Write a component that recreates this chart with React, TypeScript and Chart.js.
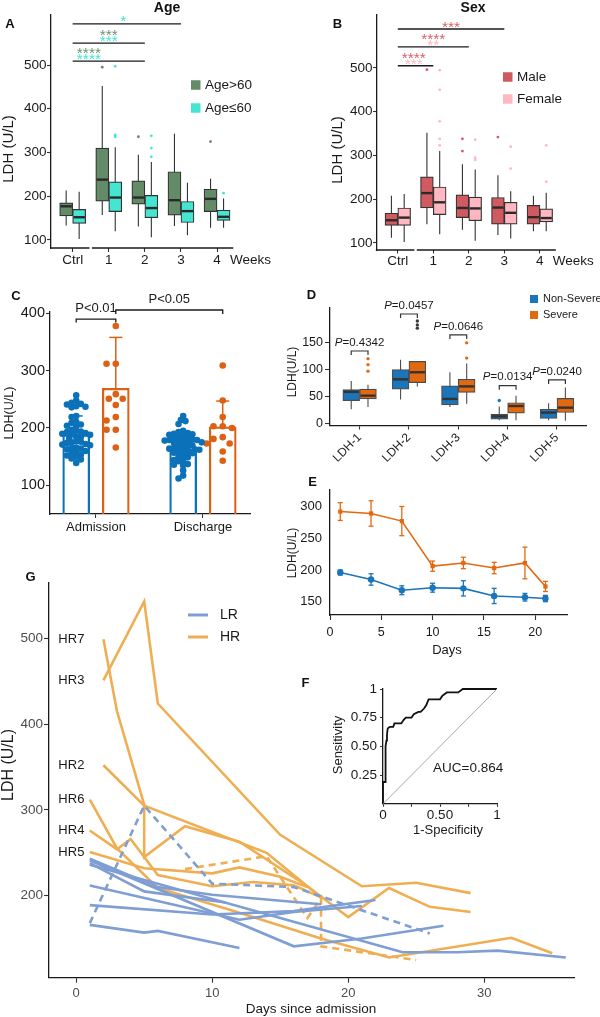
import React, { useEffect, useRef } from "react";
import { Chart, registerables } from "chart.js";

Chart.register(...registerables);

const FONT = "'Liberation Sans', Arial, Helvetica, sans-serif";
Chart.defaults.font.family = FONT;
Chart.defaults.color = "#1a1a1a";

/* ======================= DATA ======================= */
// Panels A and B: weekly LDH box plots
const weekLabels = ["Ctrl", "1", "2", "3", "4"];

// A — Age>60
const oldMin = [133, 157, 131, 132, 128];
const oldQ1 = [155, 189, 182, 157, 165];
const oldMed = [177, 238, 197, 191, 194];
const oldQ3 = [185, 310, 235, 256, 216];
const oldMax = [213, 452, 295, 343, 240];
const oldOut = [[], [495], [336], [], [325]];
// A — Age≤60
const youngMin = [102, 120, 106, 111, 128];
const youngQ1 = [138, 165, 151, 140, 145];
const youngMed = [152, 197, 173, 166, 153];
const youngQ3 = [170, 233, 202, 188, 168];
const youngMax = [210, 312, 278, 231, 195];
const youngOut = [[], [497, 340, 336], [338, 310, 290], [], [207]];
// A — significance
const ageSigFrom = [1, 1, 1];
const ageSigTo = [4, 3, 3];
const ageSigLevel = [594, 550, 509];
const ageSigMid = [2.4, 2.0, 1.45];
const ageStarsOld = ["", "***", "****"];
const ageStarsYoung = ["*", "***", "****"];

// B — Male
const maleMin = [112, 143, 130, 118, 127];
const maleQ1 = [140, 180, 158, 143, 143];
const maleMed = [152, 214, 180, 181, 159];
const maleQ3 = [168, 251, 210, 204, 186];
const maleMax = [208, 352, 280, 255, 208];
const maleOut = [[], [496], [338, 310], [342], []];
// B — Female
const femMin = [102, 120, 105, 110, 127];
const femQ1 = [140, 165, 151, 143, 148];
const femMed = [158, 193, 179, 169, 157];
const femQ3 = [180, 228, 205, 193, 178];
const femMax = [212, 310, 268, 218, 215];
const femOut = [[], [495, 450, 378, 338, 323], [336, 295, 290], [320, 270], [323, 240]];
// B — significance
const sexSigFrom = [1, 1, 1];
const sexSigTo = [4, 3, 2];
const sexSigLevel = [589, 548, 505];
const sexSigMid = [2.5, 2.0, 1.45];
const sexStarsMale = ["***", "****", "****"];
const sexStarsFemale = ["", "**", "***"];

// Panel C: bars (mean, SD) + individual values
const cGroups = ["Admission", "Discharge"];
const cNonSevereMean = [188, 163];
const cNonSevereSD = [33, 20];
const cSevereMean = [269, 202];
const cSevereSD = [89, 45];
const cNonSevereAdm = [257, 248, 244, 242, 241, 238, 237, 236, 221, 219, 211, 209, 206, 204, 203, 197, 195, 194, 193, 191, 190, 189, 188, 185, 184, 182, 177, 176, 175, 174, 172, 171, 170, 166, 165, 164, 163, 160, 158, 157, 153, 152, 150, 147, 145, 139];
const cNonSevereDis = [221, 214, 212, 207, 195, 193, 191, 190, 189, 188, 185, 184, 183, 182, 180, 179, 179, 178, 177, 176, 175, 175, 174, 170, 169, 168, 167, 165, 164, 163, 162, 161, 159, 158, 157, 156, 151, 150, 149, 144, 143, 142, 137, 136, 135, 126, 117, 112];
const cSevereAdm = [378, 312, 312, 259, 251, 251, 240, 219, 213, 197, 197, 166];
const cSevereDis = [309, 248, 219, 203, 203, 200, 184, 181, 173, 173, 159, 143];
const cCompareText = ["P<0.01", "P<0.05"];
const cCompareLevel = [390, 405.8];

// Panel D: LDH isoenzymes
const isoLabels = ["LDH-1", "LDH-2", "LDH-3", "LDH-4", "LDH-5"];
const nsMin = [27, 45, 31, 7, 7];
const nsQ1 = [43, 64, 35, 9, 10];
const nsMed = [59, 82, 46, 14, 21];
const nsQ3 = [63, 100, 70, 18, 27];
const nsMax = [79, 118, 95, 32, 38];
const nsOut = [[], [], [], [43], []];
const svMin = [31, 69, 37, 7, 6];
const svQ1 = [46, 76, 58, 20, 21];
const svMed = [52, 95, 69, 33, 30];
const svQ3 = [64, 115, 82, 39, 47];
const svMax = [72, 115, 111, 52, 67];
const svOut = [[120, 109, 97], [189, 182, 176], [149, 121], [], []];
const dPValues = ["0.4342", "0.0457", "0.0646", "0.0134", "0.0240"];
const dBracketLevel = [134, 202, 163.6, 70.4, 80.9];

// Panel E: time course (mean ± SEM)
const eDays = [1, 4, 7, 10, 13, 16, 19, 21];
const eSevere = [292, 289, 277, 206, 211, 203, 211, 174];
const eSevereErr = [14, 20, 23, 8, 9, 9, 25, 8];
const eNonSevere = [196, 185, 168, 172, 171, 159, 157, 155];
const eNonSevereErr = [4, 9, 7, 7, 12, 12, 6, 5];

// Panel F: ROC
const rocFpr = [0, 0, 0.02, 0.02, 0.025, 0.03, 0.035, 0.04, 0.045, 0.06, 0.09, 0.1, 0.16, 0.18, 0.2, 0.25, 0.27, 0.31, 0.33, 0.36, 0.38, 0.4, 0.5, 0.52, 0.56, 0.66, 0.7, 1];
const rocTpr = [0, 0.19, 0.19, 0.35, 0.5, 0.55, 0.6, 0.65, 0.66, 0.67, 0.67, 0.7, 0.7, 0.73, 0.75, 0.75, 0.78, 0.8, 0.8, 0.83, 0.86, 0.91, 0.91, 0.94, 0.97, 0.97, 1, 1];
const chanceLine = [0, 1];
const aucText = "AUC=0.864";

// Panel G: individual trajectories
const lrDays = [[1, 6, 10, 18], [1, 5, 11], [1, 12, 16, 21], [1, 10, 16, 22], [1, 5, 6, 12], [1, 16, 21, 27], [1, 24, 28, 31, 36]];
const lrLDH = [[243, 210, 201, 190], [238, 205, 192], [212, 172, 181, 188], [189, 178, 182, 195], [166, 157, 159, 139], [241, 141, 150, 165], [236, 134, 134, 136, 128]];
const lrDashDays = [1, 5, 10, 16, 26];
const lrDashLDH = [168, 305, 214, 210, 156];
const hrNames = ["HR7", "HR3", "HR2", "HR6", "HR4", "HR5"];
const hrDays = [[2, 3, 5, 5, 8, 12, 17, 20, 23, 26, 29], [2, 5, 6, 15, 21, 25, 29], [2, 5, 14, 18], [1, 3, 6, 12, 18, 23, 32, 35], [1, 3, 4, 6, 10, 13, 16, 18], [1, 5, 10, 12, 15, 17]];
const hrLDH = [[499, 415, 306, 245, 281, 263, 211, 175, 209, 187, 181], [451, 543, 424, 271, 211, 215, 203], [352, 305, 250, 198], [312, 255, 209, 180, 150, 128, 151, 133], [276, 254, 266, 224, 211, 216, 212, 198], [251, 232, 226, 233, 222, 210]];
const hrDashDays = [8, 14, 17, 18, 18, 25];
const hrDashLDH = [231, 246, 174, 197, 141, 125];

/* ======================= STYLE ======================= */
const AGE_OLD = "#638b67";
const AGE_YOUNG = "#45e5d2";
const MALE = "#cf5a60";
const FEMALE = "#ffb8c2";
const C_BLUE = "#0b72ba";
const C_OR = "#dd6114";
const D_BLUE = "#1a75bb";
const D_OR = "#e2690f";
const svOutlierColors = [D_OR, "#3a3a3a", D_OR, D_OR, D_OR];
const G_LR = "#7f9ed3";
const G_HR = "#efae52";

type Rect = { l: number; t: number; w: number; h: number };
type Area = { L: number; T: number; R: number; B: number };
type Box = { label: string; fill: string; min: number[]; q1: number[]; med: number[]; q3: number[]; max: number[]; out: number[][]; outFill: any };

function frame(rect: Rect, area: Area) {
  return {
    padding: { left: 0, top: area.T - rect.t, right: rect.l + rect.w - area.R, bottom: 0 },
    yW: area.L - rect.l,
    xH: rect.t + rect.h - area.B,
    ox: rect.l,
    oy: rect.t,
  };
}

function seg(ctx: CanvasRenderingContext2D, x1: number, y1: number, x2: number, y2: number) {
  ctx.beginPath();
  ctx.moveTo(x1, y1);
  ctx.lineTo(x2, y2);
  ctx.stroke();
}

type TxtOpt = { size?: number; bold?: boolean; italic?: boolean; color?: string; align?: CanvasTextAlign; base?: CanvasTextBaseline; rot?: number };
function txt(ctx: CanvasRenderingContext2D, s: string, x: number, y: number, o: TxtOpt = {}) {
  ctx.save();
  ctx.font = `${o.italic ? "italic " : ""}${o.bold ? "bold " : ""}${o.size ?? 13}px ${FONT}`;
  ctx.fillStyle = o.color ?? "#1a1a1a";
  ctx.textAlign = o.align ?? "left";
  ctx.textBaseline = o.base ?? "middle";
  ctx.translate(x, y);
  if (o.rot) ctx.rotate(o.rot);
  ctx.fillText(s, 0, 0);
  ctx.restore();
}

function pText(ctx: CanvasRenderingContext2D, val: string, cx: number, cy: number, size: number) {
  ctx.save();
  ctx.font = `italic ${size}px ${FONT}`;
  const w1 = ctx.measureText("P").width;
  ctx.font = `${size}px ${FONT}`;
  const w2 = ctx.measureText("=" + val).width;
  ctx.restore();
  const x0 = cx - (w1 + w2) / 2;
  txt(ctx, "P", x0, cy, { italic: true, size });
  txt(ctx, "=" + val, x0 + w1, cy, { size });
}

function linAxis(o: any) {
  const tl = o.tickLen ?? 4;
  return {
    type: "linear",
    min: o.min,
    max: o.max,
    offset: false,
    beginAtZero: false,
    afterBuildTicks: (s: any) => {
      s.ticks = o.ticks.map((v: number) => ({ value: v }));
    },
    afterFit: o.fit,
    ticks: {
      autoSkip: false,
      maxRotation: o.rot ?? 0,
      minRotation: o.rot ?? 0,
      padding: o.pad ?? 2,
      color: o.color ?? "#1a1a1a",
      font: { size: o.size ?? 13, family: FONT },
      callback: (v: any) => (o.fmt ? o.fmt(Number(v)) : String(v)),
    },
    grid: {
      display: tl > 0,
      drawOnChartArea: false,
      drawTicks: tl > 0,
      tickLength: tl,
      tickColor: "#333",
      tickWidth: 1.1,
      offset: false,
    },
    border: { display: o.border ?? true, color: "#1a1a1a", width: o.bw ?? 1.3 },
  };
}

function baseOptions(f: any) {
  return {
    responsive: false,
    maintainAspectRatio: false,
    animation: false,
    events: [],
    layout: { padding: f.padding },
    plugins: { legend: { display: false }, tooltip: { enabled: false }, title: { display: false } },
  };
}

function boxSets(series: Box[], thick: number, edge: string) {
  return series.map((s) => ({
    type: "bar",
    label: s.label,
    data: s.q1.map((q, i) => ({ x: i + 1, y: [q, s.q3[i]] })),
    backgroundColor: s.fill,
    borderColor: edge,
    borderWidth: 1.2,
    borderSkipped: false,
    barThickness: thick,
    grouped: true,
    order: 1,
  }));
}

function boxPlugin(series: Box[], whisker: string, medColor: string, outR: number) {
  return {
    id: "boxes",
    beforeDatasetsDraw(chart: any) {
      const ctx = chart.ctx as CanvasRenderingContext2D;
      const ys = chart.scales.y;
      ctx.save();
      ctx.strokeStyle = whisker;
      ctx.lineWidth = 1.1;
      series.forEach((s, di) => {
        chart.getDatasetMeta(di).data.forEach((el: any, i: number) => {
          seg(ctx, el.x, ys.getPixelForValue(s.min[i]), el.x, ys.getPixelForValue(s.max[i]));
        });
      });
      ctx.restore();
    },
    afterDatasetsDraw(chart: any) {
      const ctx = chart.ctx as CanvasRenderingContext2D;
      const ys = chart.scales.y;
      ctx.save();
      series.forEach((s, di) => {
        chart.getDatasetMeta(di).data.forEach((el: any, i: number) => {
          const hw = el.width / 2;
          ctx.strokeStyle = medColor;
          ctx.lineWidth = 2.4;
          const my = ys.getPixelForValue(s.med[i]);
          seg(ctx, el.x - hw + 0.8, my, el.x + hw - 0.8, my);
          ctx.fillStyle = Array.isArray(s.outFill) ? s.outFill[i] : s.outFill;
          s.out[i].forEach((v) => {
            ctx.beginPath();
            ctx.arc(el.x, ys.getPixelForValue(v), outR, 0, Math.PI * 2);
            ctx.fill();
          });
        });
      });
      ctx.restore();
    },
  };
}

/* ---------- Panels A & B ---------- */
function weekConfig(p: any) {
  const f = frame(p.rect, p.area);
  const xmin = 0.4;
  const xmax = 5.45;
  const ppu = (p.area.R - p.area.L) / (xmax - xmin);
  const thick = 0.36 * ppu;
  const series: Box[] = p.series;
  const annot = {
    id: "weekAnnot",
    afterDraw(chart: any) {
      const ctx = chart.ctx as CanvasRenderingContext2D;
      const xs = chart.scales.x;
      const ys = chart.scales.y;
      const ca = chart.chartArea;
      ctx.save();
      ctx.strokeStyle = "#1a1a1a";
      ctx.lineWidth = 1.3;
      const gap = xs.getPixelForValue(1.5);
      seg(ctx, ca.left - 0.65, ca.bottom, gap - 1.2, ca.bottom);
      seg(ctx, gap + 1.2, ca.bottom, ca.right, ca.bottom);
      const SZ = 15.5;
      p.sigLevel.forEach((v: number, i: number) => {
        const y = ys.getPixelForValue(v);
        ctx.strokeStyle = "#1a1a1a";
        ctx.lineWidth = 1.3;
        seg(ctx, xs.getPixelForValue(p.sigFrom[i]), y, xs.getPixelForValue(p.sigTo[i]), y);
        const sx = xs.getPixelForValue(p.sigMid[i]);
        const hi = p.starsHi[i];
        const lo = p.starsLo[i];
        const star = (s: string, c: string, cy: number) =>
          txt(ctx, s, sx, cy + 0.57 * SZ, { size: SZ, color: c, align: "center", base: "alphabetic" });
        if (hi && lo) {
          star(hi, p.starColors[0], y - 12);
          star(lo, p.starColors[1], y - 5.5);
        } else if (hi) star(hi, p.starColors[0], y - 6);
        else if (lo) star(lo, p.starColors[1], y - 7);
      });
      txt(ctx, "Weeks", xs.getPixelForValue(5) + 13, ca.bottom + p.tickLen + 8.1, { size: 13.5 });
      txt(ctx, "LDH (U/L)", p.yTitle[0] - f.ox, p.yTitle[1] - f.oy, { size: 15, align: "center", rot: -Math.PI / 2 });
      series.forEach((s, i) => {
        const ly = p.legendY[i] - f.oy;
        const lx = p.legendX - f.ox;
        ctx.fillStyle = s.fill;
        ctx.fillRect(lx, ly - 4.75, 9.5, 9.5);
        txt(ctx, s.label, lx + 14, ly, { size: 13.5 });
      });
      ctx.restore();
    },
  };
  return {
    type: "bar",
    data: { datasets: boxSets(series, thick, "#333") },
    options: {
      ...baseOptions(f),
      scales: {
        x: linAxis({
          min: xmin, max: xmax, ticks: [1, 2, 3, 4, 5], fmt: (v: number) => weekLabels[v - 1],
          border: false, size: 13.5, tickLen: p.tickLen, pad: 0,
          fit: (s: any) => { s.height = f.xH; },
        }),
        y: linAxis({
          min: p.ymin, max: p.ymax, ticks: [100, 200, 300, 400, 500], size: 13.5, tickLen: p.tickLen, pad: 0.5,
          fit: (s: any) => { s.width = f.yW; },
        }),
      },
    },
    plugins: [boxPlugin(series, "#333", "#2a2a2a", 1.4), annot],
  };
}

const rectA: Rect = { l: 0, t: 0, w: 300, h: 272 };
const rectB: Rect = { l: 300, t: 0, w: 300, h: 272 };

function configA() {
  return weekConfig({
    rect: rectA,
    area: { L: 51, T: 15, R: 233.3, B: 248 },
    ymin: 81.7, ymax: 614.3, tickLen: 4,
    series: [
      { label: "Age>60", fill: AGE_OLD, min: oldMin, q1: oldQ1, med: oldMed, q3: oldQ3, max: oldMax, out: oldOut, outFill: AGE_OLD },
      { label: "Age≤60", fill: AGE_YOUNG, min: youngMin, q1: youngQ1, med: youngMed, q3: youngQ3, max: youngMax, out: youngOut, outFill: AGE_YOUNG },
    ],
    sigFrom: ageSigFrom, sigTo: ageSigTo, sigLevel: ageSigLevel, sigMid: ageSigMid,
    starsHi: ageStarsOld, starsLo: ageStarsYoung, starColors: ["#6f9273", AGE_YOUNG],
    legendX: 191, legendY: [85, 108], yTitle: [9, 149],
  });
}

function configB() {
  return weekConfig({
    rect: rectB,
    area: { L: 376.5, T: 15, R: 555.8, B: 250 },
    ymin: 84, ymax: 621, tickLen: 3.5,
    series: [
      { label: "Male", fill: MALE, min: maleMin, q1: maleQ1, med: maleMed, q3: maleQ3, max: maleMax, out: maleOut, outFill: MALE },
      { label: "Female", fill: FEMALE, min: femMin, q1: femQ1, med: femMed, q3: femQ3, max: femMax, out: femOut, outFill: FEMALE },
    ],
    sigFrom: sexSigFrom, sigTo: sexSigTo, sigLevel: sexSigLevel, sigMid: sexSigMid,
    starsHi: sexStarsMale, starsLo: sexStarsFemale, starColors: ["#d4646a", FEMALE],
    legendX: 503, legendY: [77, 99], yTitle: [338, 150],
  });
}

/* ---------- Panel C ---------- */
// compact beeswarm layout (positions derived from the values only)
function swarm(values: number[], cx: number, pxX: number, pxY: number, r: number, tight: number) {
  const placed: { x: number; y: number }[] = [];
  const order = values.map((_, i) => i).sort((a, b) => values[b] - values[a]);
  const out: { x: number; y: number }[] = [];
  const minD = tight * r;
  const step = 0.7 * r;
  for (const i of order) {
    const py = values[i] * pxY;
    let off = 0;
    for (let k = 0; k < 60; k++) {
      const cand = (k % 2 === 0 ? 1 : -1) * Math.ceil(k / 2) * step;
      if (placed.every((p) => (p.x - cand) ** 2 + (p.y - py) ** 2 >= minD * minD)) {
        off = cand;
        break;
      }
    }
    placed.push({ x: off, y: py });
    out.push({ x: cx + off / pxX, y: values[i] });
  }
  return out;
}

const rectC: Rect = { l: 0, t: 280, w: 300, h: 265 };
function configC() {
  const area = { L: 50, T: 311.6, R: 250, B: 514 };
  const f = frame(rectC, area);
  const xmin = 0.57, xmax = 2.44, ymin = 50, ymax = 403;
  const ppuX = (area.R - area.L) / (xmax - xmin);
  const ppuY = (area.B - area.T) / (ymax - ymin);
  const dx = 0.185;
  const blueX = cGroups.map((_, i) => i + 1 - dx);
  const orX = cGroups.map((_, i) => i + 1 + dx);
  const r = 3.3;
  const bluePts = [...swarm(cNonSevereAdm, blueX[0], ppuX, ppuY, r, 1.3), ...swarm(cNonSevereDis, blueX[1], ppuX, ppuY, r, 1.3)];
  const orPts = [...swarm(cSevereAdm, orX[0], ppuX, ppuY, r, 2.4), ...swarm(cSevereDis, orX[1], ppuX, ppuY, r, 2.4)];
  const sds = [cNonSevereSD, cSevereSD];
  const cols = [C_BLUE, C_OR];
  const annot = {
    id: "cAnnot",
    beforeDatasetsDraw(chart: any) {
      const ctx = chart.ctx as CanvasRenderingContext2D;
      const ys = chart.scales.y;
      ctx.save();
      [2, 3].forEach((di, k) => {
        chart.getDatasetMeta(di).data.forEach((el: any, i: number) => {
          const mean = (chart.data.datasets[di].data[i] as any).y;
          const top = ys.getPixelForValue(mean + sds[k][i]);
          ctx.strokeStyle = cols[k];
          ctx.lineWidth = 1.5;
          seg(ctx, el.x, el.y, el.x, top);
          seg(ctx, el.x - 6.5, top, el.x + 6.5, top);
        });
      });
      ctx.restore();
    },
    afterDraw(chart: any) {
      const ctx = chart.ctx as CanvasRenderingContext2D;
      const xs = chart.scales.x;
      const ys = chart.scales.y;
      ctx.save();
      ctx.strokeStyle = "#1a1a1a";
      ctx.lineWidth = 1.3;
      const pairs = [[blueX[0], orX[0]], [orX[0], orX[1]]];
      cCompareText.forEach((label, i) => {
        const x1 = xs.getPixelForValue(pairs[i][0]);
        const x2 = xs.getPixelForValue(pairs[i][1]);
        const y = ys.getPixelForValue(cCompareLevel[i]);
        const leg = i === 0 ? 3.5 : 4;
        ctx.beginPath();
        ctx.moveTo(x1, y + leg);
        ctx.lineTo(x1, y);
        ctx.lineTo(x2, y);
        ctx.lineTo(x2, y + leg);
        ctx.stroke();
        txt(ctx, label, (x1 + x2) / 2, y - 10.5, { size: 13, align: "center" });
      });
      txt(ctx, "LDH(U/L)", 10 - f.ox, 413 - f.oy, { size: 12.5, align: "center", rot: -Math.PI / 2 });
      ctx.restore();
    },
  };
  return {
    type: "bar",
    data: {
      datasets: [
        { type: "scatter", data: bluePts, backgroundColor: C_BLUE, pointRadius: r, borderWidth: 0, order: 1 },
        { type: "scatter", data: orPts, backgroundColor: C_OR, pointRadius: r, borderWidth: 0, order: 1 },
        { type: "bar", data: cNonSevereMean.map((m, i) => ({ x: blueX[i], y: m })), backgroundColor: "rgba(255,255,255,0)", borderColor: C_BLUE, borderWidth: 1.6, barThickness: 27, grouped: false, order: 2 },
        { type: "bar", data: cSevereMean.map((m, i) => ({ x: orX[i], y: m })), backgroundColor: "rgba(255,255,255,0)", borderColor: C_OR, borderWidth: 1.6, barThickness: 27, grouped: false, order: 2 },
      ],
    },
    options: {
      ...baseOptions(f),
      scales: {
        x: linAxis({ min: xmin, max: xmax, ticks: [1, 2], fmt: (v: number) => cGroups[v - 1], size: 13, tickLen: 4, pad: 1.2, fit: (s: any) => { s.height = f.xH; } }),
        y: linAxis({ min: ymin, max: ymax, ticks: [100, 200, 300, 400], size: 14.5, tickLen: 4, pad: 1, fit: (s: any) => { s.width = f.yW; } }),
      },
    },
    plugins: [annot],
  };
}

/* ---------- Panel D ---------- */
const rectD: Rect = { l: 280, t: 282, w: 320, h: 185 };
function configD() {
  const area = { L: 330, T: 308, R: 586.6, B: 425.5 };
  const f = frame(rectD, area);
  const xmin = 0.4, xmax = 5.6;
  const ppu = (area.R - area.L) / (xmax - xmin);
  const series: Box[] = [
    { label: "Non-Severe", fill: D_BLUE, min: nsMin, q1: nsQ1, med: nsMed, q3: nsQ3, max: nsMax, out: nsOut, outFill: D_BLUE },
    { label: "Severe", fill: D_OR, min: svMin, q1: svQ1, med: svMed, q3: svQ3, max: svMax, out: svOut, outFill: svOutlierColors },
  ];
  const annot = {
    id: "dAnnot",
    afterDraw(chart: any) {
      const ctx = chart.ctx as CanvasRenderingContext2D;
      const ys = chart.scales.y;
      const a = chart.getDatasetMeta(0).data;
      const b = chart.getDatasetMeta(1).data;
      ctx.save();
      ctx.strokeStyle = "#333";
      ctx.lineWidth = 1.2;
      dPValues.forEach((pv, i) => {
        const x1 = a[i].x;
        const x2 = b[i].x;
        const y = ys.getPixelForValue(dBracketLevel[i]);
        ctx.beginPath();
        ctx.moveTo(x1, y + 4);
        ctx.lineTo(x1, y);
        ctx.lineTo(x2, y);
        ctx.lineTo(x2, y + 4);
        ctx.stroke();
        pText(ctx, pv, (x1 + x2) / 2, y - 8.5, 11.5);
      });
      series.forEach((s, i) => {
        const ly = [299, 315][i] - f.oy;
        ctx.fillStyle = s.fill;
        ctx.fillRect(530 - f.ox, ly - 4, 8, 8);
        txt(ctx, s.label, 543 - f.ox, ly, { size: 11 });
      });
      txt(ctx, "LDH(U/L)", 293 - f.ox, 372 - f.oy, { size: 12, align: "center", rot: -Math.PI / 2 });
      ctx.restore();
    },
  };
  return {
    type: "bar",
    data: { datasets: boxSets(series, 0.34 * ppu, "#4d4d4d") },
    options: {
      ...baseOptions(f),
      scales: {
        x: linAxis({ min: xmin, max: xmax, ticks: [1, 2, 3, 4, 5], fmt: (v: number) => isoLabels[v - 1], size: 12, rot: 45, tickLen: 4, pad: 1, fit: (s: any) => { s.height = f.xH; } }),
        y: linAxis({ min: -2.8, max: 213, ticks: [0, 50, 100, 150], size: 12.5, tickLen: 5, pad: 2, fit: (s: any) => { s.width = f.yW; } }),
      },
    },
    plugins: [boxPlugin(series, "#4d4d4d", "#333", 1.7), annot],
  };
}

/* ---------- Panel E ---------- */
const rectE: Rect = { l: 280, t: 468, w: 320, h: 192 };
function configE() {
  const area = { L: 330, T: 490, R: 567, B: 615 };
  const f = frame(rectE, area);
  const groups = [
    { m: eSevere, e: eSevereErr, c: D_OR },
    { m: eNonSevere, e: eNonSevereErr, c: D_BLUE },
  ];
  const annot = {
    id: "eAnnot",
    beforeDatasetsDraw(chart: any) {
      const ctx = chart.ctx as CanvasRenderingContext2D;
      const xs = chart.scales.x;
      const ys = chart.scales.y;
      ctx.save();
      groups.forEach((g) => {
        ctx.strokeStyle = g.c;
        ctx.lineWidth = 1.3;
        eDays.forEach((d, i) => {
          const x = xs.getPixelForValue(d);
          const y1 = ys.getPixelForValue(g.m[i] - g.e[i]);
          const y2 = ys.getPixelForValue(g.m[i] + g.e[i]);
          seg(ctx, x, y1, x, y2);
          seg(ctx, x - 2.5, y1, x + 2.5, y1);
          seg(ctx, x - 2.5, y2, x + 2.5, y2);
        });
      });
      ctx.restore();
    },
    afterDraw(chart: any) {
      const ctx = chart.ctx as CanvasRenderingContext2D;
      txt(ctx, "LDH(U/L)", 293 - f.ox, 553 - f.oy, { size: 12, align: "center", rot: -Math.PI / 2 });
      txt(ctx, "Days", 447 - f.ox, 650 - f.oy, { size: 13, align: "center" });
    },
  };
  return {
    type: "line",
    data: {
      datasets: [
        { data: eDays.map((d, i) => ({ x: d, y: eSevere[i] })), borderColor: D_OR, backgroundColor: D_OR, borderWidth: 1.6, pointRadius: 3, pointStyle: "rect", pointBorderWidth: 0, tension: 0 },
        { data: eDays.map((d, i) => ({ x: d, y: eNonSevere[i] })), borderColor: D_BLUE, backgroundColor: D_BLUE, borderWidth: 1.6, pointRadius: 3.2, pointStyle: "circle", pointBorderWidth: 0, tension: 0 },
      ],
    },
    options: {
      ...baseOptions(f),
      scales: {
        x: linAxis({ min: 0, max: 23.1, ticks: [0, 5, 10, 15, 20], size: 12.5, tickLen: 5, pad: 5, fit: (s: any) => { s.height = f.xH; } }),
        y: linAxis({ min: 129, max: 326, ticks: [150, 200, 250, 300], size: 13, tickLen: 0, pad: 8, fit: (s: any) => { s.width = f.yW; } }),
      },
    },
    plugins: [annot],
  };
}

/* ---------- Panel F ---------- */
const rectF: Rect = { l: 290, t: 672, w: 230, h: 168 };
function configF() {
  const area = { L: 383, T: 689, R: 497, B: 803.8 };
  const f = frame(rectF, area);
  const annot = {
    id: "fAnnot",
    afterDraw(chart: any) {
      const ctx = chart.ctx as CanvasRenderingContext2D;
      txt(ctx, "Sensitivity", 338 - f.ox, 745 - f.oy, { size: 13, align: "center", rot: -Math.PI / 2 });
      txt(ctx, "1-Specificity", 448 - f.ox, 830 - f.oy, { size: 13, align: "center" });
      txt(ctx, aucText, 433 - f.ox, 768 - f.oy, { size: 13.5 });
    },
  };
  return {
    type: "line",
    data: {
      datasets: [
        { data: chanceLine.map((v) => ({ x: v, y: v })), borderColor: "#a8a8a8", borderWidth: 1, pointRadius: 0 },
        { data: rocFpr.map((x, i) => ({ x, y: rocTpr[i] })), borderColor: "#111", borderWidth: 1.8, pointRadius: 0, tension: 0, clip: 3 },
      ],
    },
    options: {
      ...baseOptions(f),
      scales: {
        x: linAxis({ min: 0, max: 1, ticks: [0, 0.25, 0.5, 0.75, 1], fmt: (v: number) => (v === 0 ? "0" : v === 1 ? "1" : v === 0.5 ? "0.50" : ""), size: 13.5, tickLen: 3, pad: 0, fit: (s: any) => { s.height = f.xH; } }),
        y: linAxis({ min: 0, max: 1, ticks: [0.25, 0.5, 0.75, 1], fmt: (v: number) => (v === 1 ? "1" : v.toFixed(2)), size: 13.5, tickLen: 3, pad: 3, fit: (s: any) => { s.width = f.yW; } }),
      },
    },
    plugins: [annot],
  };
}

/* ---------- Panel G ---------- */
const rectG: Rect = { l: 0, t: 560, w: 600, h: 457 };
function configG() {
  const area = { L: 49, T: 583, R: 574, B: 977.7 };
  const f = frame(rectG, area);
  const line = (days: number[], vals: number[], color: string, dashed: boolean) => ({
    data: days.map((d, i) => ({ x: d, y: vals[i] })),
    borderColor: color,
    borderWidth: 2.6,
    borderDash: dashed ? [7, 5] : [],
    pointRadius: 0,
    tension: 0,
  });
  const datasets = [
    ...lrDays.map((d, i) => line(d, lrLDH[i], G_LR, false)),
    line(lrDashDays, lrDashLDH, G_LR, true),
    ...hrDays.map((d, i) => line(d, hrLDH[i], G_HR, false)),
    line(hrDashDays, hrDashLDH, G_HR, true),
  ];
  const annot = {
    id: "gAnnot",
    afterDraw(chart: any) {
      const ctx = chart.ctx as CanvasRenderingContext2D;
      const xs = chart.scales.x;
      const ys = chart.scales.y;
      hrNames.forEach((n, i) => {
        txt(ctx, n, xs.getPixelForValue(0.6), ys.getPixelForValue(hrLDH[i][0]), { size: 13, align: "right" });
      });
      ctx.save();
      ctx.lineWidth = 3;
      ctx.strokeStyle = G_LR;
      seg(ctx, 188 - f.ox, 615 - f.oy, 208 - f.ox, 615 - f.oy);
      ctx.strokeStyle = G_HR;
      seg(ctx, 188 - f.ox, 637 - f.oy, 208 - f.ox, 637 - f.oy);
      ctx.restore();
      txt(ctx, "LR", 220 - f.ox, 615 - f.oy, { size: 14 });
      txt(ctx, "HR", 220 - f.ox, 637 - f.oy, { size: 14 });
      txt(ctx, "LDH (U/L)", 9 - f.ox, 765 - f.oy, { size: 16, align: "center", rot: -Math.PI / 2 });
      txt(ctx, "Days since admission", 311 - f.ox, 1009 - f.oy, { size: 13.5, align: "center" });
    },
  };
  return {
    type: "line",
    data: { datasets },
    options: {
      ...baseOptions(f),
      scales: {
        x: linAxis({ min: -2, max: 36.6, ticks: [0, 10, 20, 30], size: 13, color: "#4d4d4d", tickLen: 5, pad: 2.5, fit: (s: any) => { s.height = f.xH; } }),
        y: linAxis({ min: 104.4, max: 564.5, ticks: [200, 300, 400, 500], size: 13.5, color: "#4d4d4d", tickLen: 5, pad: 1, fit: (s: any) => { s.width = f.yW; } }),
      },
    },
    plugins: [annot],
  };
}

/* ======================= COMPONENTS ======================= */
function ChartCanvas({ rect, build }: { rect: Rect; build: () => any }) {
  const ref = useRef<HTMLCanvasElement | null>(null);
  useEffect(() => {
    if (!ref.current) return;
    const chart = new Chart(ref.current, build());
    return () => chart.destroy();
  }, []);
  return (
    <canvas
      ref={ref}
      width={rect.w}
      height={rect.h}
      style={{ position: "absolute", left: rect.l, top: rect.t, width: rect.w, height: rect.h }}
    />
  );
}

const headings = [
  { s: "Age", x: 167, y: 6.5, size: 14 },
  { s: "Sex", x: 473, y: 6.5, size: 14 },
  { s: "A", x: 10, y: 22.5, size: 13 },
  { s: "B", x: 337.5, y: 22.5, size: 13 },
  { s: "C", x: 16, y: 295, size: 13 },
  { s: "D", x: 311.5, y: 293.5, size: 13 },
  { s: "E", x: 312.5, y: 481, size: 13 },
  { s: "F", x: 305.5, y: 681.5, size: 13 },
  { s: "G", x: 30.5, y: 575.5, size: 13 },
];

export default function App() {
  return (
    <div style={{ position: "absolute", left: 0, top: 0, width: 600, height: 1017, background: "#fff", overflow: "hidden", fontFamily: FONT }}>
      <ChartCanvas rect={rectA} build={configA} />
      <ChartCanvas rect={rectB} build={configB} />
      <ChartCanvas rect={rectC} build={configC} />
      <ChartCanvas rect={rectD} build={configD} />
      <ChartCanvas rect={rectG} build={configG} />
      <ChartCanvas rect={rectE} build={configE} />
      <ChartCanvas rect={rectF} build={configF} />
      {headings.map((h) => (
        <div
          key={h.s}
          style={{
            position: "absolute",
            left: h.x,
            top: h.y,
            transform: "translate(-50%, -50%)",
            fontSize: h.size,
            fontWeight: "bold",
            lineHeight: 1,
            whiteSpace: "nowrap",
            color: "#111",
          }}
        >
          {h.s}
        </div>
      ))}
    </div>
  );
}
